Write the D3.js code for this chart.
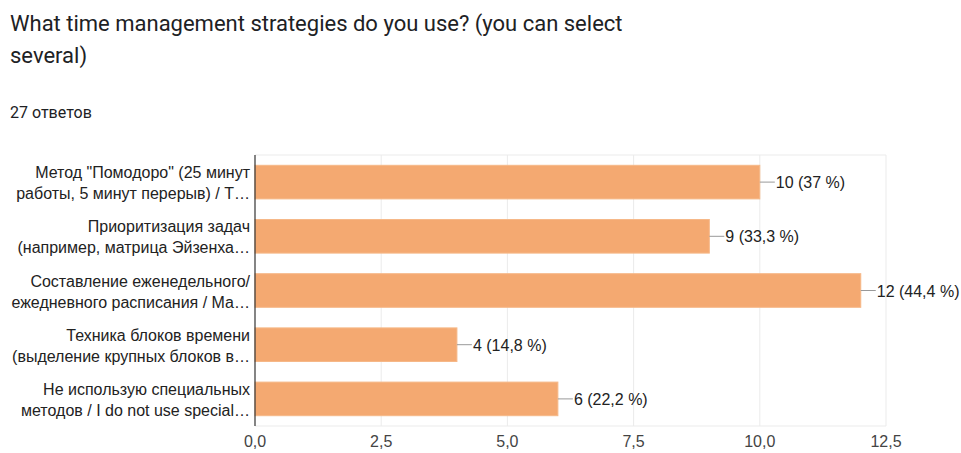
<!DOCTYPE html>
<html><head><meta charset="utf-8">
<script src="https://cdn.jsdelivr.net/npm/d3@7"></script>
<style>body{margin:0;background:#fff;} svg{display:block;}</style>
</head><body>
<script>
const titleLines = ["What time management strategies do you use? (you can select", "several)"];
const subtitle = "27 ответов";
const categories = [
  ["Метод \"Помодоро\" (25 минут", "работы, 5 минут перерыв) / T…"],
  ["Приоритизация задач", "(например, матрица Эйзенха…"],
  ["Составление еженедельного/", "ежедневного расписания / Ма…"],
  ["Техника блоков времени", "(выделение крупных блоков в…"],
  ["Не использую специальных", "методов / I do not use special…"]
];
const values = [10, 9, 12, 4, 6];
const valueLabels = ["10 (37 %)", "9 (33,3 %)", "12 (44,4 %)", "4 (14,8 %)", "6 (22,2 %)"];
const ticks = [0, 2.5, 5, 7.5, 10, 12.5];

const W = 961, H = 453;
const svg = d3.select("body").append("svg").attr("width", W).attr("height", H);

svg.selectAll("text.title").data(titleLines).join("text")
  .attr("x", 10).attr("y", (d,i) => 31 + i*32)
  .attr("font-family", "Roboto").attr("font-size", 22).attr("fill", "#202124").text(d => d);
svg.append("text").attr("x", 10).attr("y", 118).attr("font-family", "Roboto")
  .attr("font-size", 16).attr("fill", "#202124").text(subtitle);

const x = d3.scaleLinear().domain([0, 12.5]).range([255, 886]);
const y = d3.scaleBand().domain(d3.range(categories.length)).range([155, 426]).paddingInner(0.38).paddingOuter(0.19);

const g = svg.append("g");
// grid
g.selectAll("line.grid").data(ticks.slice(1)).join("line")
  .attr("x1", d => x(d)).attr("x2", d => x(d)).attr("y1", 155).attr("y2", 426)
  .attr("stroke", "#ebebeb").attr("stroke-width", 1);
[155, 426].forEach(v => g.append("line").attr("x1", 255).attr("x2", x(12.5)).attr("y1", v).attr("y2", v)
  .attr("stroke", "#ebebeb"));

// bars
g.selectAll("rect.bar").data(values).join("rect")
  .attr("x", x(0)).attr("y", (d,i) => y(i)).attr("width", d => x(d) - x(0)).attr("height", y.bandwidth())
  .attr("fill", "#f4a971").attr("stroke", "#f6b888").attr("stroke-width", 1);

// axis line
g.append("line").attr("x1", x(0)).attr("x2", x(0)).attr("y1", 155).attr("y2", 426).attr("stroke", "#333").attr("stroke-width", 1.2);

// value leaders and labels
values.forEach((v, i) => {
  const cy = y(i) + y.bandwidth()/2;
  g.append("line").attr("x1", x(v)).attr("x2", x(v) + 15).attr("y1", cy).attr("y2", cy).attr("stroke", "#999");
  g.append("text").attr("x", x(v) + 16).attr("y", cy + 6).attr("font-family", "Liberation Sans, Arial")
    .attr("font-size", 16).attr("fill", "#222").text(valueLabels[i]);
});

// category labels
categories.forEach((lines, i) => {
  const cy = y(i) + y.bandwidth()/2;
  lines.forEach((t, j) => {
    g.append("text").attr("x", 250).attr("y", cy - 4 + j*21).attr("text-anchor", "end")
      .attr("font-family", "Liberation Sans, Arial").attr("font-size", 16).attr("fill", "#222").text(t);
  });
});

// tick labels
const fmt = d => d.toFixed(1).replace(".", ",");
g.selectAll("text.tick").data(ticks).join("text")
  .attr("x", d => x(d)).attr("y", 447).attr("text-anchor", "middle")
  .attr("font-family", "Liberation Sans, Arial").attr("font-size", 16).attr("fill", "#444").text(fmt);
</script>
</body></html>
